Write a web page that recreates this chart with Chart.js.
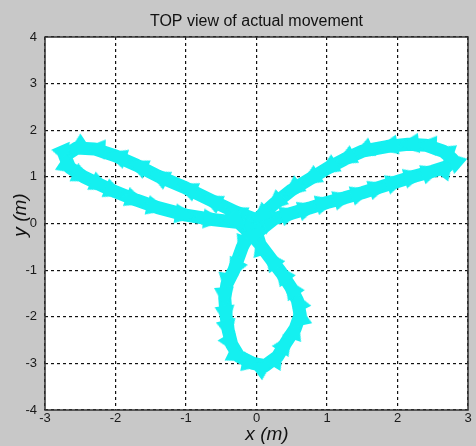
<!DOCTYPE html>
<html>
<head>
<meta charset="utf-8">
<script src="https://cdn.jsdelivr.net/npm/chart.js@4/dist/chart.umd.min.js"></script>
<style>
  html, body { margin: 0; padding: 0; overflow: hidden; background: #c8c8c8; }
  canvas { display: block; }
</style>
</head>
<body>
<canvas id="chart" width="476" height="446"></canvas>
<script>
'use strict';

var chartTitle = 'TOP view of actual movement';
var xLabel = 'x (m)';
var yLabel = 'y (m)';
var xTicks = [-3, -2, -1, 0, 1, 2, 3];
var yTicks = [-4, -3, -2, -1, 0, 1, 2, 3, 4];

// path of the robot (left lobe, bottom lobe, right lobe)
var pathX = [
  0.05, -0.3, -0.65, -1.0, -1.4, -1.7, -2.0, -2.3, -2.55, -2.72,
  -2.65, -2.45, -2.2, -2.0, -1.7, -1.4, -1.0, -0.6, -0.25,
  -0.1, -0.2, -0.32, -0.42, -0.45, -0.43, -0.4, -0.35, -0.25, -0.05, 0.12, 0.3, 0.42, 0.55, 0.62, 0.58, 0.48, 0.35, 0.2, 0.05, 0.0,
  0.25, 0.5, 0.75, 1.0, 1.25, 1.5, 1.75, 2.0, 2.25, 2.5, 2.7, 2.78, 2.65, 2.4, 2.15, 1.85, 1.5, 1.25, 1.0, 0.75, 0.5, 0.25, 0.05
];
var pathY = [
  0.05, 0.25, 0.5, 0.76, 1.02, 1.25, 1.45, 1.6, 1.62, 1.45,
  1.2, 1.0, 0.82, 0.68, 0.5, 0.34, 0.18, 0.08, 0.02,
  -0.2, -0.5, -1.0, -1.3, -1.6, -2.0, -2.3, -2.6, -2.85, -3.0, -3.05, -2.85, -2.55, -2.25, -1.95, -1.65, -1.35, -1.05, -0.75, -0.45, -0.2,
  0.1, 0.22, 0.33, 0.45, 0.55, 0.66, 0.78, 0.9, 1.02, 1.12, 1.22, 1.38, 1.55, 1.68, 1.7, 1.65, 1.55, 1.38, 1.18, 0.95, 0.72, 0.42, 0.15
];

var cyan = '#14f0f0';

var points = [];
for (var i = 0; i < pathX.length; i++) {
  points.push({x: pathX[i], y: pathY[i]});
}

// arrow head used as point style, pointing up before rotation
var arrow = document.createElement('canvas');
arrow.width = 20;
arrow.height = 22;
var actx = arrow.getContext('2d');
actx.fillStyle = cyan;
actx.beginPath();
actx.moveTo(10, 0);
actx.lineTo(20, 22);
actx.lineTo(0, 22);
actx.closePath();
actx.fill();

function arrowRotation(context) {
  var chart = context.chart;
  var i = context.dataIndex;
  var a = i < pathX.length - 1 ? i : i - 1;
  var sx = chart.scales.x;
  var sy = chart.scales.y;
  if (!sx || !sy) return 0;
  var dx = sx.getPixelForValue(pathX[a + 1]) - sx.getPixelForValue(pathX[a]);
  var dy = sy.getPixelForValue(pathY[a + 1]) - sy.getPixelForValue(pathY[a]);
  return Math.atan2(dx, -dy) * 180 / Math.PI;
}

var frame = {
  id: 'frame',
  beforeDraw: function(chart) {
    var ctx = chart.ctx;
    var a = chart.chartArea;
    ctx.save();
    ctx.fillStyle = '#c8c8c8';
    ctx.fillRect(0, 0, chart.width, chart.height);
    ctx.fillStyle = '#ffffff';
    ctx.fillRect(a.left, a.top, a.right - a.left, a.bottom - a.top);
    ctx.restore();
  },
  afterDraw: function(chart) {
    var ctx = chart.ctx;
    var a = chart.chartArea;
    ctx.save();
    ctx.strokeStyle = '#333333';
    ctx.lineWidth = 1.5;
    ctx.strokeRect(a.left, a.top, a.right - a.left, a.bottom - a.top);

    ctx.fillStyle = '#111111';
    ctx.textAlign = 'center';
    ctx.textBaseline = 'alphabetic';
    ctx.font = '16px "Liberation Sans", Arial, sans-serif';
    ctx.fillText(chartTitle, (a.left + a.right) / 2, 26);

    ctx.font = 'italic 19px "Liberation Sans", Arial, sans-serif';
    ctx.fillText(xLabel, 267, 440);

    ctx.translate(26, 215);
    ctx.rotate(-Math.PI / 2);
    ctx.fillText(yLabel, 0, 0);
    ctx.restore();
  }
};

var tickFont = {family: '"Liberation Sans", Arial, sans-serif', size: 13};

new Chart(document.getElementById('chart'), {
  type: 'scatter',
  data: {
    datasets: [{
      data: points,
      showLine: true,
      borderColor: cyan,
      borderWidth: 13,
      borderJoinStyle: 'round',
      borderCapStyle: 'round',
      pointStyle: arrow,
      pointRadius: 10,
      pointHoverRadius: 10,
      rotation: arrowRotation,
      backgroundColor: cyan
    }]
  },
  options: {
    responsive: false,
    animation: false,
    layout: {autoPadding: false, padding: {top: 37, right: 8, left: 0, bottom: 0}},
    plugins: {
      legend: {display: false},
      tooltip: {enabled: false}
    },
    scales: {
      x: {
        type: 'linear',
        min: -3,
        max: 3,
        afterBuildTicks: function(scale) {
          scale.ticks = xTicks.map(function(v) { return {value: v}; });
        },
        afterFit: function(scale) {
          scale.height = 36;
          scale.paddingLeft = 0;
          scale.paddingRight = 0;
        },
        grid: {color: '#111111', drawTicks: false, lineWidth: 1.2},
        border: {display: false, dash: [3, 3]},
        ticks: {color: '#1a1a1a', font: tickFont, padding: 1, maxRotation: 0}
      },
      y: {
        type: 'linear',
        min: -4,
        max: 4,
        afterBuildTicks: function(scale) {
          scale.ticks = yTicks.map(function(v) { return {value: v}; });
        },
        afterFit: function(scale) {
          scale.width = 45;
          scale.paddingTop = 0;
          scale.paddingBottom = 0;
        },
        grid: {color: '#111111', drawTicks: false, lineWidth: 1.2},
        border: {display: false, dash: [3, 3]},
        ticks: {color: '#1a1a1a', font: tickFont, padding: 8}
      }
    }
  },
  plugins: [frame]
});
</script>
</body>
</html>
